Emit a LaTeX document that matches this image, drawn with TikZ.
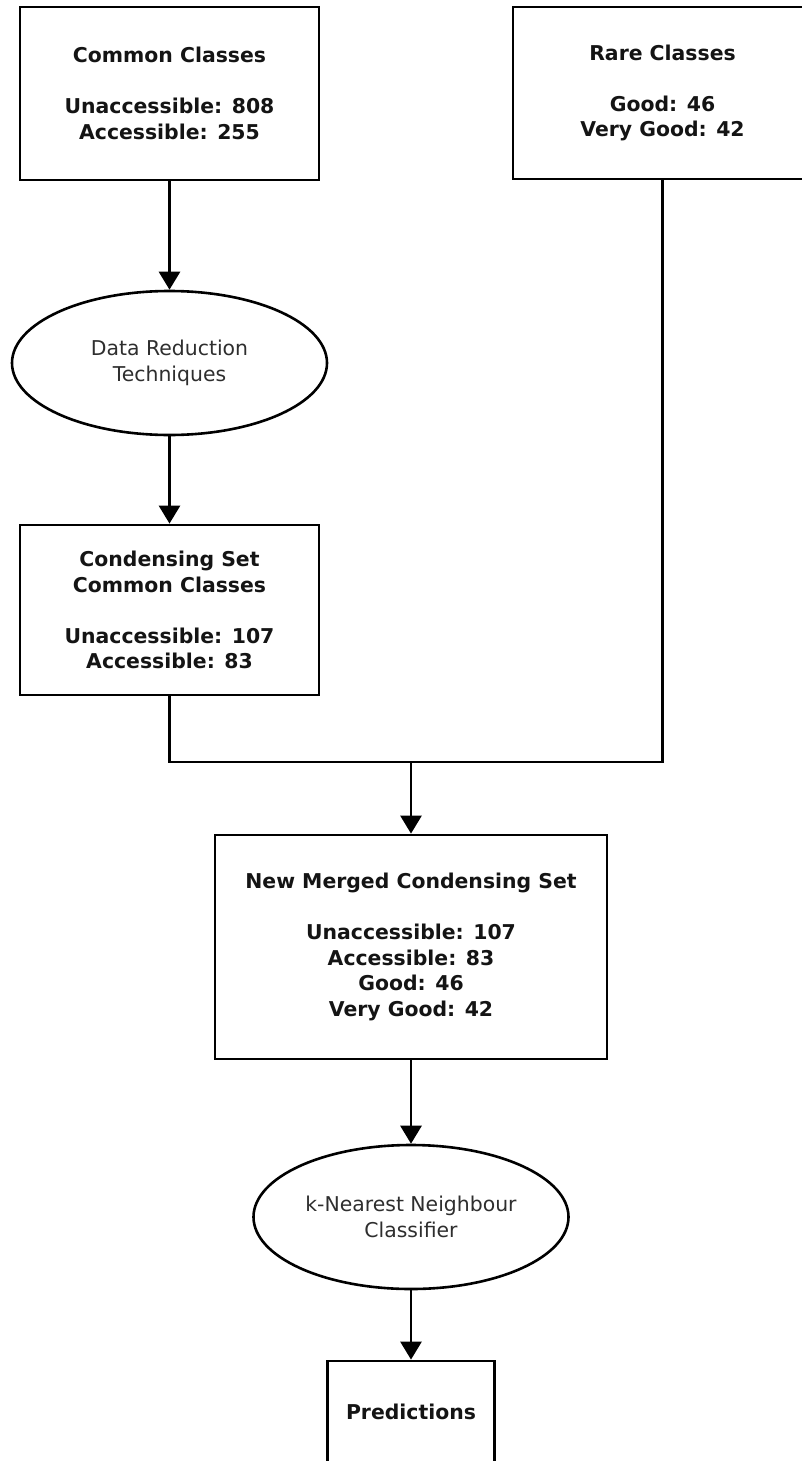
\documentclass[tikz,border=0pt]{standalone}
\usepackage{fontspec}
\setmainfont{DejaVu Sans}
\usetikzlibrary{shapes.geometric,arrows.meta}
\begin{document}
\begin{tikzpicture}[x=1pt,y=-1pt,
  box/.style={draw, line width=2.8pt, rectangle, inner sep=0pt, align=center,
    font=\bfseries\fontsize{20.4}{25.5}\selectfont, text=black!92},
  oval/.style={draw, line width=2.6pt, ellipse, inner sep=0pt, align=center,
    font=\fontsize{20.4}{25.5}\selectfont, text=black!82},
  conn/.style={line width=2.8pt},
  arr/.style={conn, -{Triangle[width=21pt,length=18pt]}}]
\useasboundingbox (0,0) rectangle (802,1461);
\clip (0,0) rectangle (802,1461);

\node[box, minimum width=299pt, minimum height=173pt] (common) at (169.5,93.5)
  {Common Classes\\[25.5pt]Unaccessible: 808\\Accessible: 255};
\node[box, minimum width=299pt, minimum height=172pt] (rare) at (662.5,93)
  {Rare Classes\\[25.5pt]Good: 46\\Very Good: 42};
\node[oval, minimum width=315pt, minimum height=144pt] (dr) at (169.5,363)
  {Data Reduction\\Techniques};
\node[box, minimum width=299pt, minimum height=170pt] (cond) at (169.5,610)
  {Condensing Set\\Common Classes\\[25.5pt]Unaccessible: 107\\Accessible: 83};
\node[box, minimum width=392pt, minimum height=224pt] (merged) at (411,947)
  {New Merged Condensing Set\\[25.5pt]Unaccessible: 107\\Accessible: 83\\Good: 46\\Very Good: 42};
\node[oval, minimum width=315pt, minimum height=144pt] (knn) at (411,1217)
  {k-Nearest Neighbour\\Classifier};
\node[box, minimum width=167pt, minimum height=102pt] (pred) at (411,1412)
  {Predictions};

\coordinate (join) at (411,762);

\draw[arr] (common.south) -- (dr.north);
\draw[arr] (dr.south) -- (cond.north);
\draw[conn] (cond.south) |- (join) -| (rare.south);
\draw[arr] (join) -- (merged.north);
\draw[arr] (merged.south) -- (knn.north);
\draw[arr] (knn.south) -- (pred.north);
\end{tikzpicture}
\end{document}
